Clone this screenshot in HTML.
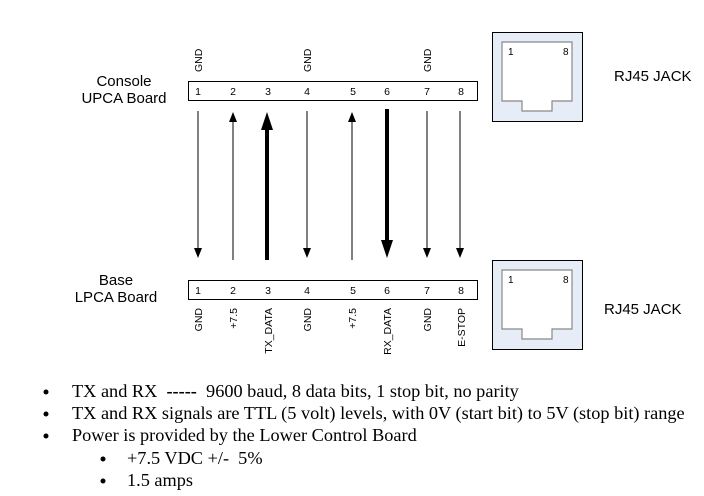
<!DOCTYPE html>
<html><head><meta charset="utf-8"><style>
html,body{margin:0;padding:0;background:#fff;}
svg{display:block;}
.s{font-family:"Liberation Sans",sans-serif;}
.r{font-family:"Liberation Serif",serif;font-size:18.3px;fill:#000;}
</style></head><body>
<svg width="704" height="496" viewBox="0 0 704 496" xmlns="http://www.w3.org/2000/svg">
<!-- top labels -->
<g class="s" font-size="10.5" fill="#000">
<text transform="translate(202,72) rotate(-90)">GND</text>
<text transform="translate(311,72) rotate(-90)">GND</text>
<text transform="translate(431,72) rotate(-90)">GND</text>
</g>
<text class="s" x="124" y="86" font-size="15" text-anchor="middle">Console</text>
<text class="s" x="124" y="103" font-size="15" text-anchor="middle">UPCA Board</text>
<rect x="188.5" y="81.5" width="289" height="19" fill="#fff" stroke="#000"/>
<g class="s" font-size="10.5" text-anchor="middle">
<text x="198" y="95">1</text><text x="233" y="95">2</text><text x="268" y="95">3</text><text x="307" y="95">4</text><text x="353" y="95">5</text><text x="387" y="95">6</text><text x="427" y="95">7</text><text x="461" y="95">8</text>
</g>
<!-- arrows -->
<g stroke="#000">
<line x1="198" y1="111" x2="198" y2="250"/>
<line x1="233" y1="260" x2="233" y2="120"/>
<line x1="267" y1="260" x2="267" y2="128" stroke-width="4"/>
<line x1="307" y1="111" x2="307" y2="250"/>
<line x1="352" y1="260" x2="352" y2="120"/>
<line x1="387" y1="109" x2="387" y2="242" stroke-width="4"/>
<line x1="427" y1="111" x2="427" y2="250"/>
<line x1="460" y1="111" x2="460" y2="250"/>
</g>
<g fill="#000">
<path d="M194,248 L202,248 L198,258 Z"/>
<path d="M229,122 L237,122 L233,112 Z"/>
<path d="M261,130 L273,130 L267,112 Z"/>
<path d="M303,248 L311,248 L307,258 Z"/>
<path d="M348,122 L356,122 L352,112 Z"/>
<path d="M381,240 L393,240 L387,258 Z"/>
<path d="M423,248 L431,248 L427,258 Z"/>
<path d="M456,248 L464,248 L460,258 Z"/>
</g>
<!-- bottom -->
<text class="s" x="116" y="285" font-size="15" text-anchor="middle">Base</text>
<text class="s" x="116" y="302" font-size="15" text-anchor="middle">LPCA Board</text>
<rect x="188.5" y="280.5" width="289" height="19" fill="#fff" stroke="#000"/>
<g class="s" font-size="10.5" text-anchor="middle">
<text x="198" y="294">1</text><text x="233" y="294">2</text><text x="268" y="294">3</text><text x="307" y="294">4</text><text x="353" y="294">5</text><text x="387" y="294">6</text><text x="427" y="294">7</text><text x="461" y="294">8</text>
</g>
<g class="s" font-size="10.5" fill="#000" text-anchor="end">
<text transform="translate(202,308) rotate(-90)">GND</text>
<text transform="translate(237,308) rotate(-90)">+7.5</text>
<text transform="translate(272,308) rotate(-90)">TX_DATA</text>
<text transform="translate(311,308) rotate(-90)">GND</text>
<text transform="translate(356,308) rotate(-90)">+7.5</text>
<text transform="translate(391,308) rotate(-90)">RX_DATA</text>
<text transform="translate(431,308) rotate(-90)">GND</text>
<text transform="translate(465,308) rotate(-90)">E-STOP</text>
</g>
<!-- RJ45 -->
<g>
<rect x="492.5" y="32.5" width="90" height="89" fill="#e7edf7" stroke="#000"/>
<path d="M502,42 H572 V101 H552 V111 H522 V101 H502 Z" fill="#fff" stroke="#888" stroke-width="1.2"/>
<text class="s" x="508" y="55" font-size="10">1</text><text class="s" x="563" y="55" font-size="10">8</text>
<text class="s" x="614" y="81" font-size="15">RJ45 JACK</text>
<rect x="492.5" y="260.5" width="90" height="89" fill="#e7edf7" stroke="#000"/>
<path d="M502,270 H572 V329 H552 V339 H522 V329 H502 Z" fill="#fff" stroke="#888" stroke-width="1.2"/>
<text class="s" x="508" y="283" font-size="10">1</text><text class="s" x="563" y="283" font-size="10">8</text>
<text class="s" x="604" y="314" font-size="15">RJ45 JACK</text>
</g>
<!-- bullets -->
<g class="r">
<circle cx="46" cy="392" r="2.5"/><text x="72" y="397" xml:space="preserve">TX and RX  <tspan font-weight="bold">-----</tspan>  9600 baud, 8 data bits, 1 stop bit, no parity</text>
<circle cx="46" cy="414" r="2.5"/><text x="72" y="419">TX and RX signals are TTL (5 volt) levels, with 0V (start bit) to 5V (stop bit) range</text>
<circle cx="46" cy="436" r="2.5"/><text x="72" y="441">Power is provided by the Lower Control Board</text>
<circle cx="103" cy="459" r="2.5"/><text x="127" y="464" xml:space="preserve">+7.5 VDC +/-  5%</text>
<circle cx="103" cy="481" r="2.5"/><text x="127" y="486">1.5 amps</text>
</g>
</svg>
</body></html>
